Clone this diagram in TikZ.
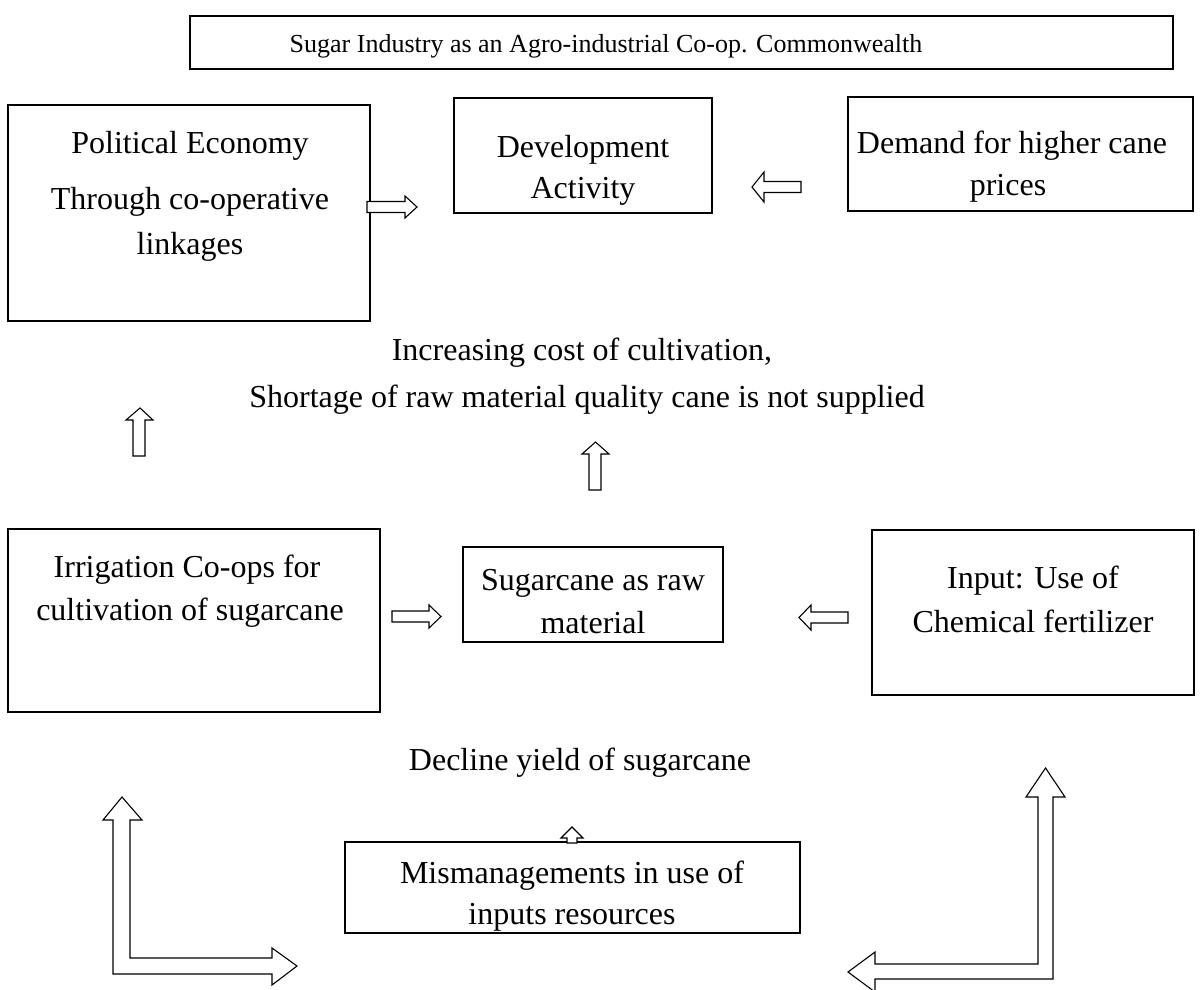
\documentclass[tikz,border=0pt]{standalone}
\usepackage{fontspec}
\setmainfont{Liberation Serif}
\begin{document}
\begin{tikzpicture}[x=1pt,y=-1pt,
  box/.style={draw,line width=1.3pt,inner sep=0pt},
  txt/.style={anchor=base,inner sep=0pt,font=\fontsize{32}{38}\selectfont},
  blk/.style={draw,line width=1.1pt,fill=white,line join=miter}]
\useasboundingbox (0,0) rectangle (1200,989);
% boxes
\node[box,minimum width=983pt,minimum height=53pt] (title) at (681.5,42.5) {};
\node[box,minimum width=362pt,minimum height=216pt] (pe) at (189,213) {};
\node[box,minimum width=258pt,minimum height=115pt] (dev) at (583,155.5) {};
\node[box,minimum width=345pt,minimum height=114pt] (dem) at (1020.5,154) {};
\node[box,minimum width=372pt,minimum height=183pt] (irr) at (194,620.5) {};
\node[box,minimum width=260pt,minimum height=95pt] (sug) at (593,594.5) {};
\node[box,minimum width=322pt,minimum height=165pt] (inp) at (1033,612.5) {};
\node[box,minimum width=455pt,minimum height=91pt] (mis) at (572.5,887.5) {};
% texts
\node[txt,font=\fontsize{26}{30}\selectfont] (t0) at (606,52) {Sugar Industry as an Agro-industrial Co-op. Commonwealth};
\node[txt] (t1) at (190,153) {Political Economy};
\node[txt] (t2) at (190,209) {Through co-operative};
\node[txt] (t3) at (190,254) {linkages};
\node[txt] (t4) at (583,157) {Development};
\node[txt] (t5) at (583,198) {Activity};
\node[txt] (t6) at (1012,153) {Demand for higher cane};
\node[txt] (t7) at (1008,195) {prices};
\node[txt] (t8) at (582,360) {Increasing cost of cultivation,};
\node[txt] (t9) at (587,407) {Shortage of raw material quality cane is not supplied};
\node[txt] (t10) at (187,577) {Irrigation Co-ops for};
\node[txt] (t11) at (190,620) {cultivation of sugarcane};
\node[txt] (t12) at (593,590) {Sugarcane as raw};
\node[txt] (t13) at (593,633) {material};
\node[txt] (t14) at (1033,588) {Input: Use of};
\node[txt] (t15) at (1033,632) {Chemical fertilizer};
\node[txt] (t16) at (580,770) {Decline yield of sugarcane};
\node[txt] (t17) at (572,883) {Mismanagements in use of};
\node[txt] (t18) at (572,924) {inputs resources};
% small horizontal block arrows
\draw[blk] (367,201.5) -- (405,201.5) -- (405,196) -- (417,207) -- (405,218) -- (405,212.5) -- (367,212.5) -- cycle;
\draw[blk] (801,181.5) -- (764,181.5) -- (764,172) -- (752,187) -- (764,202) -- (764,192.5) -- (801,192.5) -- cycle;
\draw[blk] (392,611) -- (429,611) -- (429,605) -- (441,616.5) -- (429,628) -- (429,622) -- (392,622) -- cycle;
\draw[blk] (848,612) -- (811,612) -- (811,605) -- (799,617.5) -- (811,630) -- (811,623) -- (848,623) -- cycle;
% small vertical block arrows
\draw[blk] (133,456) -- (133,420) -- (126,420) -- (140,408) -- (153,420) -- (145,420) -- (145,456) -- cycle;
\draw[blk] (589,490) -- (589,454) -- (582,454) -- (595.5,442) -- (609,454) -- (601,454) -- (601,490) -- cycle;
\draw[blk] (567,843) -- (567,838) -- (561,838) -- (572,827) -- (583,838) -- (577,838) -- (577,843) -- cycle;
% L-shaped block arrows
\draw[blk] (130,820) -- (142,820) -- (122,797) -- (103,820) -- (113,820) -- (113,974) -- (272,974) -- (272,985) -- (297,966) -- (272,948) -- (272,958) -- (130,958) -- cycle;
\draw[blk] (1038,797) -- (1026,797) -- (1045.5,768) -- (1065,797) -- (1053,797) -- (1053,979) -- (875,979) -- (875,992) -- (848,972) -- (875,952) -- (875,964) -- (1038,964) -- cycle;
\end{tikzpicture}
\end{document}
